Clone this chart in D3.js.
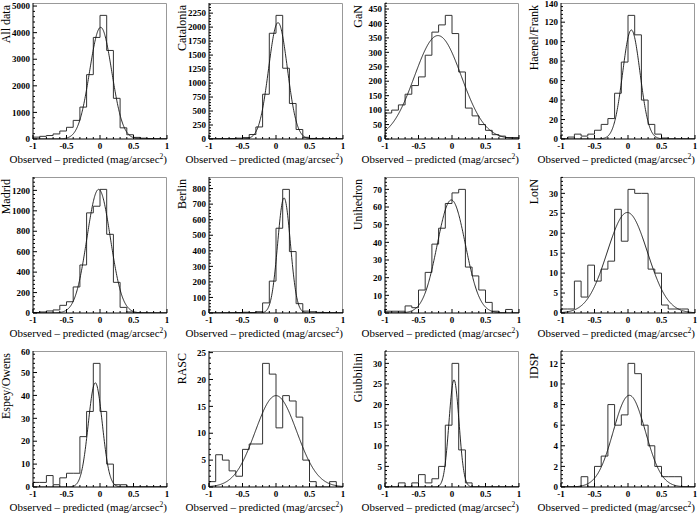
<!DOCTYPE html>
<html><head><meta charset="utf-8">
<script src="https://cdn.jsdelivr.net/npm/d3@7"></script>
<style>
html,body{margin:0;padding:0;background:#fff;}
svg{display:block;}
</style></head>
<body>
<svg id="c" width="700" height="520" font-family="'Liberation Serif', 'Times New Roman', 'DejaVu Serif', serif"></svg>
<script>
// ---- data ----
const panelNames = ["All data","Catalonia","GaN","Haenel/Frank","Madrid","Berlin","Unihedron","LotN","Espey/Owens","RASC","Giubbilini","IDSP"];
const binLow = -1, binHigh = 1, nBins = 20;
const allData   = [70, 100, 130, 190, 300, 440, 700, 1200, 2420, 3820, 4650, 3330, 1530, 420, 160, 60, 30, 15, 8, 5];
const catalonia = [3, 5, 5, 8, 15, 25, 80, 215, 800, 1890, 2210, 1265, 635, 170, 30, 10, 5, 3, 2, 1];
const gan       = [90, 100, 118, 155, 185, 215, 290, 370, 395, 428, 365, 232, 107, 80, 50, 30, 15, 10, 5, 5];
const haenel    = [0, 2, 5, 3, 5, 9, 15, 21, 47, 79, 127, 107, 40, 15, 5, 1, 0, 0, 0, 0];
const madrid    = [5, 10, 20, 30, 75, 110, 255, 470, 980, 1045, 1210, 770, 300, 55, 10, 2, 1, 0, 0, 0];
const berlin    = [0, 0, 1, 2, 3, 5, 3, 8, 65, 205, 545, 795, 395, 60, 12, 8, 4, 3, 2, 1];
const unihedron = [1, 1, 1, 4, 3, 13, 23, 39, 48, 62, 68, 70, 26, 21, 13, 6, 1, 0, 2, 0];
const lotn      = [1, 1, 8, 4, 12, 8, 11, 13, 26, 18, 31, 30, 30, 11, 10, 2, 1, 1, 1, 0];
const espey     = [2, 2, 5, 1, 4, 6, 6, 22, 33, 54, 33, 10, 1, 1, 0, 0, 0, 0, 0, 0];
const rasc      = [1, 6, 5, 3, 2, 7, 8, 8, 23, 21, 11, 17, 16, 13, 5, 1, 0, 0, 1, 0];
const giubbilini= [0, 0, 1, 0, 1, 3, 1, 2, 5, 15, 30, 9, 1, 0, 0, 0, 0, 0, 0, 0];
const idsp      = [0, 0, 0, 1, 0, 2, 3, 8, 6, 7, 12, 11, 6, 4, 2, 1, 1, 1, 0, 0];
const histCounts = [allData, catalonia, gan, haenel, madrid, berlin, unihedron, lotn, espey, rasc, giubbilini, idsp];
// Gaussian fit parameters
const fitAmp   = [4200, 2080, 358, 112, 1210, 740, 64, 25.2, 45.5, 17, 26, 8.9];
const fitMean  = [0.01, 0.03, -0.21, 0.05, -0.02, 0.12, -0.01, -0.01, -0.07, 0.0, 0.03, 0.02];
const fitSigma = [0.165, 0.14, 0.35, 0.13, 0.175, 0.095, 0.21, 0.30, 0.105, 0.31, 0.075, 0.24];
const yTickStep = [1000, 250, 50, 20, 200, 100, 10, 5, 10, 5, 5, 2];
const xTickValues = [-1, -0.5, 0, 0.5, 1];
const xTickLabels = ["-1", "-0.5", "0", "0.5", "1"];
const xTitle = "Observed \u2013 predicted (mag/arcsec";

// ---- layout ----
const colLeft = [33, 209, 385, 561];
const rowTop = [3, 177, 351];
const pw = 134, ph = 136;
const FONT = "'Liberation Serif', 'Times New Roman', 'DejaVu Serif', serif";

const svg = d3.select("#c");

panelNames.forEach((name, i) => {
  const col = i % 4, row = Math.floor(i / 4);
  const g = svg.append("g").attr("transform", `translate(${colLeft[col]},${rowTop[row]})`);
  const counts = histCounts[i];
  const ymax = d3.max(counts) * 1.1;
  const x = d3.scaleLinear().domain([binLow, binHigh]).range([0, pw]);
  const y = d3.scaleLinear().domain([0, ymax]).range([ph, 0]);
  const bw = (binHigh - binLow) / nBins;

  const clipId = "clip" + i;
  g.append("clipPath").attr("id", clipId).append("rect").attr("width", pw).attr("height", ph);

  // frame top/right
  g.append("path").attr("d", `M0,0.5H${pw - 0.5}V${ph}`).attr("fill", "none").attr("stroke", "#999").attr("stroke-width", 1);

  // histogram outline
  const pts = [[binLow, 0]];
  counts.forEach((v, k) => {
    const x0 = binLow + k * bw, x1 = x0 + bw;
    pts.push([x0, v], [x1, v]);
  });
  pts.push([binHigh, 0]);
  const hl = d3.line().x(d => x(d[0])).y(d => y(d[1]));
  g.append("path").attr("d", hl(pts)).attr("fill", "none").attr("stroke", "#333").attr("stroke-width", 1)
    .attr("clip-path", `url(#${clipId})`);

  // gaussian fit curve
  const xs = d3.range(0, 401).map(k => binLow + k * (binHigh - binLow) / 400);
  const fl = d3.line().x(d => x(d)).y(d => y(fitAmp[i] * Math.exp(-0.5 * Math.pow((d - fitMean[i]) / fitSigma[i], 2))));
  g.append("path").attr("d", fl(xs)).attr("fill", "none").attr("stroke", "#111").attr("stroke-width", 0.9)
    .attr("clip-path", `url(#${clipId})`);

  // x axis
  const xa = g.append("g").attr("transform", `translate(0,${ph})`);
  xa.append("line").attr("x1", 0).attr("x2", pw).attr("y1", 0).attr("y2", 0).attr("stroke", "#000");
  d3.range(0, 21).forEach(k => {
    const v = binLow + k * 0.1;
    const major = k % 5 === 0;
    xa.append("line").attr("x1", x(v)).attr("x2", x(v)).attr("y1", 0).attr("y2", major ? -4 : -2).attr("stroke", "#000");
  });
  xTickValues.forEach((v, k) => {
    xa.append("text").attr("x", x(v)).attr("y", 10).attr("text-anchor", "middle").attr("font-family", FONT)
      .attr("font-size", "9px").attr("font-weight", "bold").text(xTickLabels[k]);
  });
  const xt = g.append("text").attr("x", pw).attr("y", ph + 24).attr("text-anchor", "end")
    .attr("font-family", FONT).attr("font-size", "11px");
  xt.append("tspan").text(xTitle);
  xt.append("tspan").attr("dy", -4.5).attr("font-size", "7.5px").text("2");
  xt.append("tspan").attr("dy", 4.5).text(")");

  // y axis
  const ya = g.append("g");
  ya.append("line").attr("x1", 0).attr("x2", 0).attr("y1", 0).attr("y2", ph).attr("stroke", "#000");
  const step = yTickStep[i], minor = step / 5;
  d3.range(0, Math.floor(ymax / minor + 1e-9) + 1).forEach(k => {
    const v = k * minor;
    if (v > ymax) return;
    const isMajor = k % 5 === 0;
    ya.append("line").attr("x1", 0).attr("x2", isMajor ? 4 : 2).attr("y1", y(v)).attr("y2", y(v)).attr("stroke", "#000");
  });
  d3.range(0, Math.floor(ymax * 1.015 / step) + 1).forEach(k => {
    const v = k * step;
    ya.append("text").attr("x", -3).attr("y", Math.max(y(v), 0.5) + 3.2).attr("text-anchor", "end")
      .attr("font-family", FONT).attr("font-size", "9px").attr("font-weight", "bold").text(v);
  });
  g.append("text").attr("transform", `translate(-23,2) rotate(-90)`).attr("text-anchor", "end")
    .attr("font-family", FONT).attr("font-size", "12px").text(name);
});
</script>
</body></html>
